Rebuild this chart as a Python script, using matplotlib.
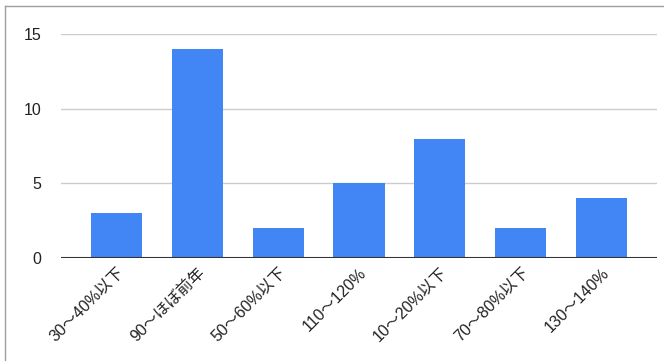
import matplotlib.pyplot as plt
from matplotlib.lines import Line2D

# Données
categories = ['30〜40%以下', '90〜ほぼ前年', '50〜60%以下', '110〜120%',
              '10〜20%以下', '70〜80%以下', '130〜140%']
counts = [3, 14, 2, 5, 8, 2, 4]
y_ticks = [0, 5, 10, 15]

fonts = ['Liberation Sans', 'Noto Sans CJK JP', 'DejaVu Sans']
plt.rcParams['font.family'] = fonts

fig = plt.figure(figsize=(6.64, 3.61), dpi=100)
ax = fig.add_axes([61 / 664, 1 - 258 / 361, 596 / 664, 224 / 361])

x = list(range(len(categories)))
ax.bar(x, counts, width=0.63, color='#4285F4', zorder=3)

ax.set_xlim(-0.68, len(categories) - 1 + 0.68)
ax.set_ylim(0, 15)
ax.set_yticks(y_ticks)
ax.set_yticklabels([str(v) for v in y_ticks], fontsize=11.5, color='#222222')
ax.set_xticks(x)
ax.set_xticklabels(categories, rotation=45, ha='right', rotation_mode='anchor',
                   fontsize=11.5, color='#222222')
ax.tick_params(axis='y', length=0, pad=14)
ax.tick_params(axis='x', length=0, pad=5)

ax.grid(axis='y', color='#cccccc', linewidth=1, zorder=0)
for s in ax.spines.values():
    s.set_visible(False)
ax.axhline(0, color='#333333', linewidth=1.5, zorder=4)

# Cadre extérieur (haut et gauche)
fig.add_artist(Line2D([5 / 664, 1], [1 - 6 / 361, 1 - 6 / 361],
                      transform=fig.transFigure, color='#9e9e9e', linewidth=1))
fig.add_artist(Line2D([5 / 664, 5 / 664], [0, 1 - 6 / 361],
                      transform=fig.transFigure, color='#9e9e9e', linewidth=1))

fig.savefig('out.png', dpi=100)
plt.close(fig)
